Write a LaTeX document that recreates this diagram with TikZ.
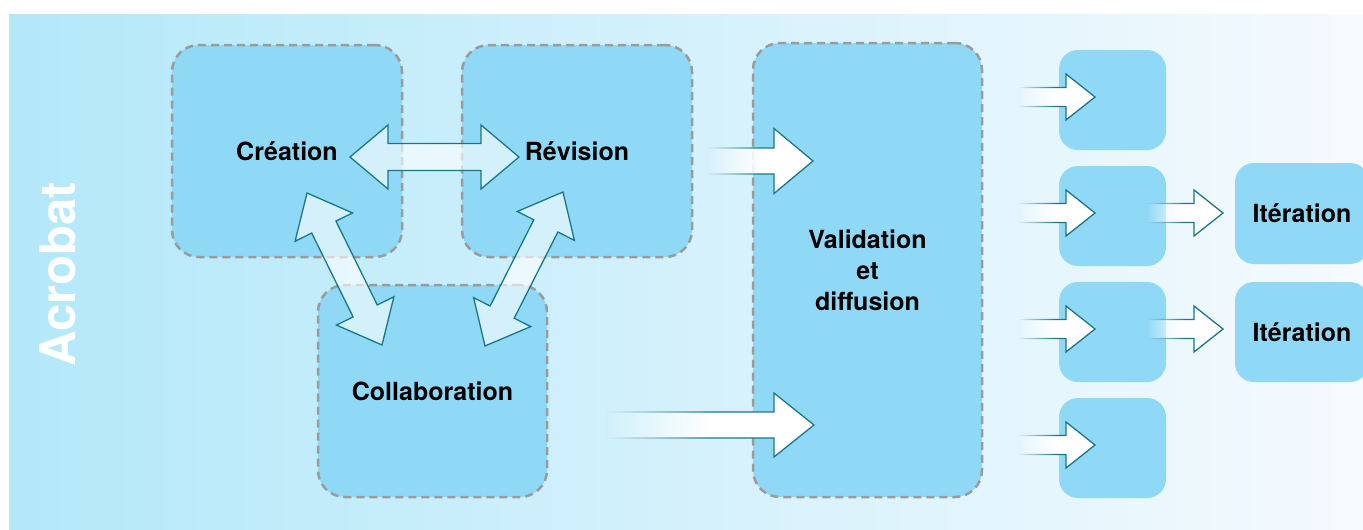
\documentclass[tikz,border=0pt]{standalone}
\usepackage{fontspec}
\setmainfont{TeX Gyre Heros}
\usetikzlibrary{calc,fadings}

\definecolor{bgleft}{HTML}{B3E8F9}
\definecolor{bgright}{HTML}{F5FAFE}
\definecolor{boxblue}{HTML}{8FD9F7}
\definecolor{rimteal}{HTML}{1A7689}
\definecolor{dashgray}{HTML}{9B9B9B}

\tikzfading[name=fadein, left color=transparent!100, right color=transparent!0, middle color=transparent!0]

% wide arrow, one head: tail, tip, shaft half width, head half width, head length
\newcommand{\onewayarrow}[6][]{%
  \coordinate (h2) at ($(#3)!#6!(#2)$);
  \filldraw[#1] ($(#2)!#4!90:(#3)$) -- ($(h2)!#4!90:(#3)$) -- ($(h2)!#5!90:(#3)$) -- (#3)
    -- ($(h2)!#5!-90:(#3)$) -- ($(h2)!#4!-90:(#3)$) -- ($(#2)!#4!-90:(#3)$) -- cycle;
}
% wide arrow, two heads
\newcommand{\twowayarrow}[6][]{%
  \coordinate (h1) at ($(#2)!#6!(#3)$);
  \coordinate (h2) at ($(#3)!#6!(#2)$);
  \filldraw[#1] (#2) -- ($(h1)!#5!90:(#3)$) -- ($(h1)!#4!90:(#3)$) -- ($(h2)!#4!90:(#3)$) -- ($(h2)!#5!90:(#3)$) -- (#3)
    -- ($(h2)!#5!-90:(#3)$) -- ($(h2)!#4!-90:(#3)$) -- ($(h1)!#4!-90:(#3)$) -- ($(h1)!#5!-90:(#3)$) -- cycle;
}

\begin{document}
\begin{tikzpicture}[x=1pt, y=-1pt,
    stage/.style={draw=dashgray, line width=2.5pt, dash pattern=on 8pt off 5pt, fill=boxblue, rounded corners=27pt, inner sep=0pt},
    slot/.style={fill=boxblue, rounded corners=19pt, inner sep=0pt},
    stagetext/.style={font={\fontsize{25}{31}\selectfont\bfseries}},
    twoway/.style={draw=rimteal, line width=1.3pt, fill=white, fill opacity=0.62},
    feedin/.style={draw=rimteal, line width=1.3pt, fill=white, path fading=fadein}]
    \path[use as bounding box, fill=white] (0,0) rectangle (1363,530);
    \shade[left color=bgleft, right color=bgright] (9,14) rectangle (1363,530);

    % side title
    \node[rotate=90, text=white, font={\fontsize{49}{49}\selectfont\bfseries}] (side) at (57.5,274) {Acrobat};

    % stages
    \node[stage, stagetext, minimum width=230pt, minimum height=212pt] (creation) at (287,151) {Création};
    \node[stage, stagetext, minimum width=230pt, minimum height=212pt] (revision) at (577,151) {Révision};
    \node[stage, stagetext, minimum width=229pt, minimum height=212pt] (collab) at (432.5,391) {Collaboration};
    \node[stage, stagetext, align=center, minimum width=229pt, minimum height=454pt] (valid) at (867.5,270) {Validation\\et\\diffusion};

    % outputs
    \foreach \y [count=\i] in {100,216,332,448}
        \node[slot, minimum width=107pt, minimum height=100pt] (slot\i) at (1112.5,\y) {};
    \node[slot, stagetext, minimum width=134pt, minimum height=101pt] (iter1) at (1302,213.5) {Itération};
    \node[slot, stagetext, minimum width=134pt, minimum height=100pt] (iter2) at (1302,332) {Itération};

    % exchanges between stages
    \coordinate (cr-r) at (350,157); \coordinate (re-l) at (519,157);
    \coordinate (cr-b) at (307,193); \coordinate (co-l) at (382,345);
    \coordinate (re-b) at (563,192); \coordinate (co-r) at (485,346);
    \twowayarrow[twoway]{cr-r}{re-l}{13.5pt}{32pt}{38pt}
    \twowayarrow[twoway]{cr-b}{co-l}{13.5pt}{32pt}{38pt}
    \twowayarrow[twoway]{re-b}{co-r}{13.5pt}{32pt}{38pt}

    % into validation
    \coordinate (re-out) at (707,161); \coordinate (va-in1) at (813,161);
    \coordinate (co-out) at (607,425); \coordinate (va-in2) at (814,425);
    \onewayarrow[feedin]{re-out}{va-in1}{13pt}{32.5pt}{39pt}
    \onewayarrow[feedin]{co-out}{va-in2}{13pt}{32pt}{40pt}

    % out of validation
    \foreach \y [count=\i] in {97,213,329,445} {
        \coordinate (va-out\i) at (1018,\y);
        \coordinate (sl-in\i) at (1095,\y);
        \onewayarrow[feedin]{va-out\i}{sl-in\i}{9.5pt}{23pt}{29pt}
    }
    \coordinate (sl-out2) at (1147,213); \coordinate (it-in1) at (1223,213);
    \coordinate (sl-out3) at (1147,329); \coordinate (it-in2) at (1223,329);
    \onewayarrow[feedin]{sl-out2}{it-in1}{9.5pt}{23pt}{29pt}
    \onewayarrow[feedin]{sl-out3}{it-in2}{9.5pt}{23pt}{29pt}
\end{tikzpicture}
\end{document}
